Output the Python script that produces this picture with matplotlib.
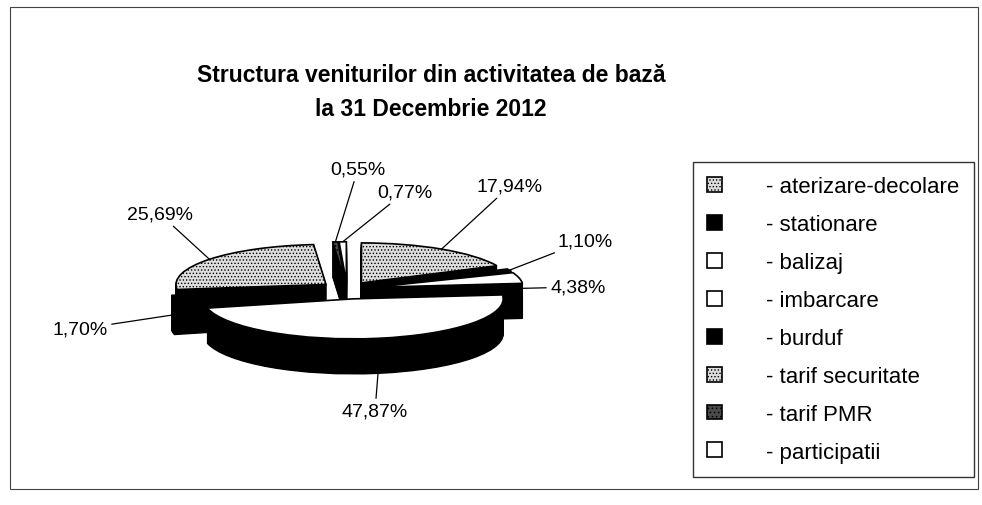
import numpy as np
import matplotlib.pyplot as plt
from matplotlib.patches import Patch, Rectangle

plt.rcParams['font.family'] = ['Liberation Sans', 'DejaVu Sans']
plt.rcParams['hatch.linewidth'] = 0.6

# data
categories = ['- aterizare-decolare', '- stationare', '- balizaj', '- imbarcare',
              '- burduf', '- tarif securitate', '- tarif PMR', '- participatii']
shares = [17.94, 1.10, 4.38, 47.87, 1.70, 25.69, 0.55, 0.77]
value_labels = ['17,94%', '1,10%', '4,38%', '47,87%', '1,70%', '25,69%', '0,55%', '0,77%']

# styles / layout
top_colors = ['#dedede', 'black', 'white', 'white', 'black', '#dedede', '#4a4a4a', 'white']
hatches = ['.....', None, None, None, None, '.....', '....', None]
explode = [0.18, 0.18, 0.18, 0.25, 0.18, 0.18, 0.18, 0.18]
label_pos = [(510, 187), (585, 242), (578, 288), (375, 412),
             (80, 330), (160, 215), (358, 170), (405, 193)]   # pixels from top-left
anchor_drop = [0, 0, 0.3, 1.0, 0.5, 0, 0, 0]

W, H = 982, 506
fig = plt.figure(figsize=(W / 100, H / 100), dpi=100)
ax = fig.add_axes([0, 0, 1, 1])

# sides of the 3D pie: stacked black copies shifted downwards
depth = 0.875
n_layers = 35
for k in range(n_layers, 0, -1):
    ax.pie(shares, explode=explode, startangle=90, counterclock=False,
           center=(0, -depth * k / n_layers), colors=['black'] * len(shares),
           wedgeprops=dict(edgecolor='black', linewidth=1))

# top faces
wedges, _ = ax.pie(shares, explode=explode, startangle=90, counterclock=False,
                   colors=top_colors, wedgeprops=dict(edgecolor='black', linewidth=1.2))
for w, h in zip(wedges, hatches):
    if h:
        w.set_hatch(h)

# value labels with leader lines
for w, txt, (px, py), drop in zip(wedges, value_labels, label_pos, anchor_drop):
    mid = np.deg2rad((w.theta1 + w.theta2) / 2)
    cx, cy = w.center
    xy = (cx + w.r * np.cos(mid), cy + w.r * np.sin(mid) - depth * drop)
    ax.annotate(txt, xy=xy, xytext=(px / W, 1 - py / H), textcoords='figure fraction',
                ha='center', va='center', fontsize=14,
                arrowprops=dict(arrowstyle='-', color='black', lw=0.9, shrinkA=1, shrinkB=0))

ax.set_xlim(-347 / 150, (W - 347) / 150)
ax.set_ylim(-216 / 40, (H - 216) / 40)
ax.set_aspect('auto')
ax.axis('off')

# title
fig.text(431 / W, 1 - 75 / H, 'Structura veniturilor din activitatea de bază',
         ha='center', va='center', fontsize=16.5, fontweight='bold')
fig.text(431 / W, 1 - 109 / H, 'la 31 Decembrie 2012',
         ha='center', va='center', fontsize=16.5, fontweight='bold')

# legend
handles = [Patch(facecolor=c, edgecolor='black', hatch=h, linewidth=1.2)
           for c, h in zip(top_colors, hatches)]
leg = fig.legend(handles, categories, loc='upper left',
                 bbox_to_anchor=(693 / W, 1 - 163 / H), fontsize=16,
                 frameon=True, fancybox=False, edgecolor='black',
                 handlelength=0.65, handleheight=0.65, handletextpad=2.0,
                 labelspacing=0.76, borderpad=0.65, borderaxespad=0)
leg.get_frame().set_linewidth(1.0)

# outer chart border
fig.patches.append(Rectangle((10 / W, 16 / H), (W - 14) / W, (H - 24) / H,
                             transform=fig.transFigure, fill=False,
                             edgecolor='#444444', linewidth=0.8))

fig.savefig('out.png', dpi=100)
